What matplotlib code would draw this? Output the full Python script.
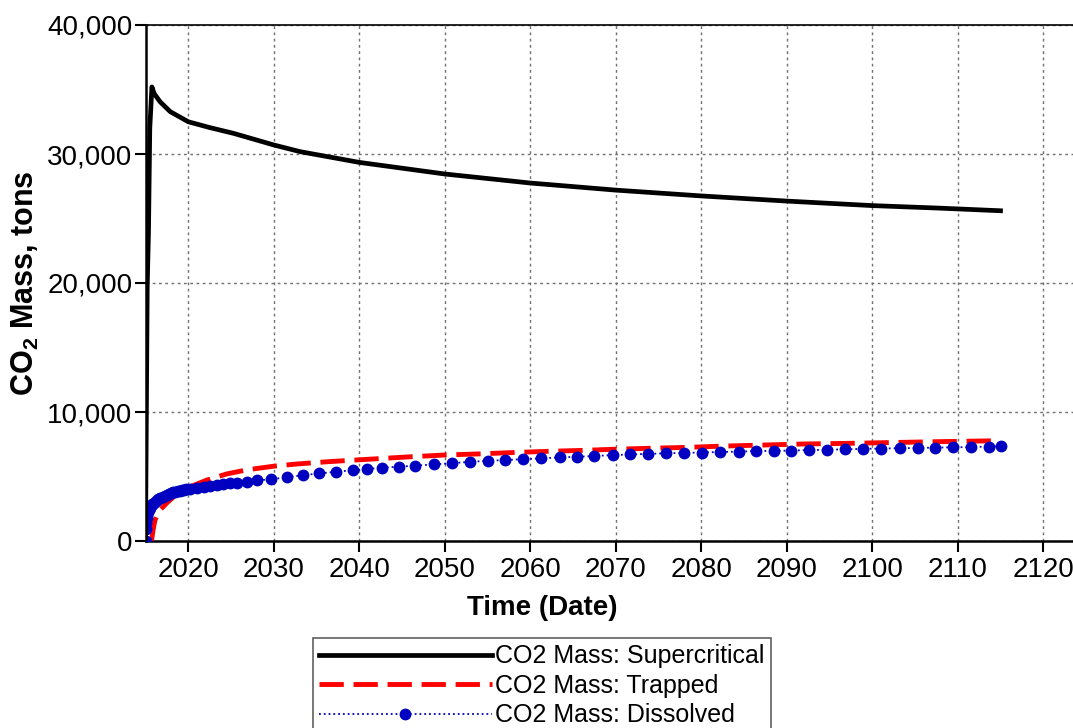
import matplotlib
matplotlib.use("Agg")
import matplotlib.pyplot as plt
from matplotlib.ticker import FuncFormatter
from matplotlib import font_manager

OUT_PATH = "out.png"

# supercritical CO2 mass (tons)
SC_YEARS = [2015.0, 2015.2, 2015.35, 2015.5, 2015.75, 2016.0, 2016.7, 2017.9,
            2020.0, 2022.5, 2025.3, 2030.0, 2033.1, 2040.0, 2050.0, 2060.0,
            2070.0, 2080.0, 2090.0, 2100.0, 2108.0, 2115.0]
SC_MASS = [0, 19700, 24000, 32000, 35200, 34700, 34050, 33280,
           32500, 32050, 31600, 30700, 30180, 29350, 28450, 27750,
           27200, 26750, 26350, 26000, 25800, 25600]

# residually trapped CO2 mass (tons)
TR_YEARS = [2015.7, 2015.9, 2016.1, 2016.4, 2016.7, 2017.5, 2018.3, 2019.2,
            2020.2, 2022.2, 2024.5, 2026.9, 2030.0, 2032.7, 2036.4, 2040.9,
            2046.0, 2050.1, 2054.0, 2057.7, 2062.0, 2065.9, 2069.8, 2074.1,
            2078.4, 2082.7, 2087.3, 2092.0, 2097.2, 2101.3, 2107.6, 2115.0]
TR_MASS = [0, 900, 1600, 2050, 2400, 2950, 3430, 3850,
           4200, 4730, 5200, 5520, 5800, 5970, 6150, 6330,
           6530, 6670, 6750, 6850, 6950, 7020, 7110, 7190,
           7260, 7360, 7440, 7520, 7570, 7620, 7700, 7775]

# dissolved CO2 mass (tons)
DS_YEARS = [2015.0, 2015.05, 2015.1, 2015.15, 2015.2, 2015.3, 2015.4, 2015.5,
            2015.65, 2015.8, 2016.0, 2016.25, 2016.5, 2016.75, 2017.0, 2017.25,
            2017.5, 2017.75, 2018.0, 2018.25, 2018.5, 2018.75, 2019.0, 2019.25,
            2019.5, 2019.75, 2020.2, 2021.0, 2021.8, 2022.6, 2023.4, 2024.1,
            2024.9, 2025.7, 2026.9, 2028.0, 2029.7, 2031.5, 2033.4, 2035.3,
            2037.3, 2039.3, 2040.9, 2042.7, 2044.6, 2046.5, 2048.7, 2050.8,
            2053.0, 2055.1, 2057.1, 2059.2, 2061.3, 2063.5, 2065.5, 2067.5,
            2069.7, 2071.7, 2073.8, 2075.9, 2078.0, 2080.1, 2082.2, 2084.4,
            2086.4, 2088.5, 2090.5, 2092.6, 2094.7, 2096.8, 2098.9, 2101.0,
            2103.2, 2105.3, 2107.3, 2109.4, 2111.6, 2113.6, 2115.0]
DS_MASS = [0, 900, 1400, 1750, 2000, 2250, 2420, 2550,
           2700, 2830, 2960, 3100, 3220, 3340, 3440, 3520,
           3590, 3650, 3710, 3760, 3810, 3850, 3890, 3930,
           3965, 4000, 4050, 4130, 4200, 4270, 4340, 4400,
           4460, 4520, 4610, 4690, 4790, 4930, 5100, 5240,
           5370, 5490, 5580, 5680, 5760, 5840, 5940, 6030,
           6140, 6220, 6280, 6340, 6410, 6480, 6530, 6590,
           6660, 6710, 6750, 6800, 6830, 6860, 6900, 6930,
           6970, 6990, 7010, 7050, 7070, 7110, 7140, 7170,
           7190, 7210, 7240, 7260, 7280, 7320, 7340]

X_TICKS = list(range(2020, 2121, 10))
Y_TICKS = [0, 10000, 20000, 30000, 40000]

LABELS = ["CO2 Mass: Supercritical", "CO2 Mass: Trapped", "CO2 Mass: Dissolved"]

names = {f.name for f in font_manager.fontManager.ttflist}
FAMILY = "Liberation Sans Narrow" if "Liberation Sans Narrow" in names else "Liberation Sans"
plt.rcParams["font.family"] = [FAMILY, "DejaVu Sans"]
plt.rcParams["mathtext.default"] = "regular"

# pixel geometry of the plotting area
LEFT_PX, TOP_PX, BOTTOM_PX = 145.5, 25, 541
W_PX, H_PX = 1073, 728
PX_PER_YEAR = 8.55


def run():
    fig = plt.figure(figsize=(W_PX / 100, H_PX / 100), dpi=100)
    ax = fig.add_axes([LEFT_PX / W_PX, 1 - BOTTOM_PX / H_PX,
                       1 - LEFT_PX / W_PX, (BOTTOM_PX - TOP_PX) / H_PX])

    ax.plot(SC_YEARS, SC_MASS, color="black", lw=3.4, solid_joinstyle="round",
            label=LABELS[0], zorder=4)
    ax.plot(TR_YEARS, TR_MASS, color="#FF0000", lw=3.5, dashes=(5, 2),
            label=LABELS[1], zorder=3)
    ax.plot(DS_YEARS, DS_MASS, color="#0000C0", lw=1.3, ls=":", marker="o",
            ms=7.5, mec="#0000C0", mfc="#0000C0", label=LABELS[2], zorder=3)

    ax.set_xlim(2015.0, 2015.0 + (W_PX - LEFT_PX) / PX_PER_YEAR)
    ax.set_ylim(0, 40000)
    ax.set_xticks(X_TICKS)
    ax.set_yticks(Y_TICKS)
    ax.yaxis.set_major_formatter(FuncFormatter(lambda v, p: f"{int(v):,}"))

    ax.grid(True, color="#707070", ls=(0, (2, 2.5)), lw=1.0)
    ax.set_axisbelow(True)

    ax.spines["right"].set_visible(False)
    for s in ("left", "bottom"):
        ax.spines[s].set_linewidth(1.8)
    ax.spines["top"].set_linewidth(1.2)
    ax.tick_params(axis="both", direction="out", length=8, width=1.5,
                   labelsize=20)
    ax.tick_params(axis="x", pad=3.5)
    ax.tick_params(axis="y", pad=1.5)

    ax.set_xlabel("Time (Date)", fontsize=20, fontweight="bold")
    ax.xaxis.set_label_coords((542 - LEFT_PX) / (W_PX - LEFT_PX), -0.105)
    ax.set_ylabel("CO$_2$ Mass, tons", fontsize=22, fontweight="bold", labelpad=4)

    leg = fig.legend(loc="upper center", bbox_to_anchor=(542 / W_PX, 1 - 638 / H_PX),
                     borderaxespad=0, fontsize=18, handlelength=6.9,
                     handletextpad=0.15, labelspacing=0.22, borderpad=0.25,
                     fancybox=False, edgecolor="#606060", framealpha=1)
    leg.get_frame().set_linewidth(1.2)

    fig.savefig(OUT_PATH, dpi=100)
    plt.close(fig)


if __name__ == "__main__":
    run()
